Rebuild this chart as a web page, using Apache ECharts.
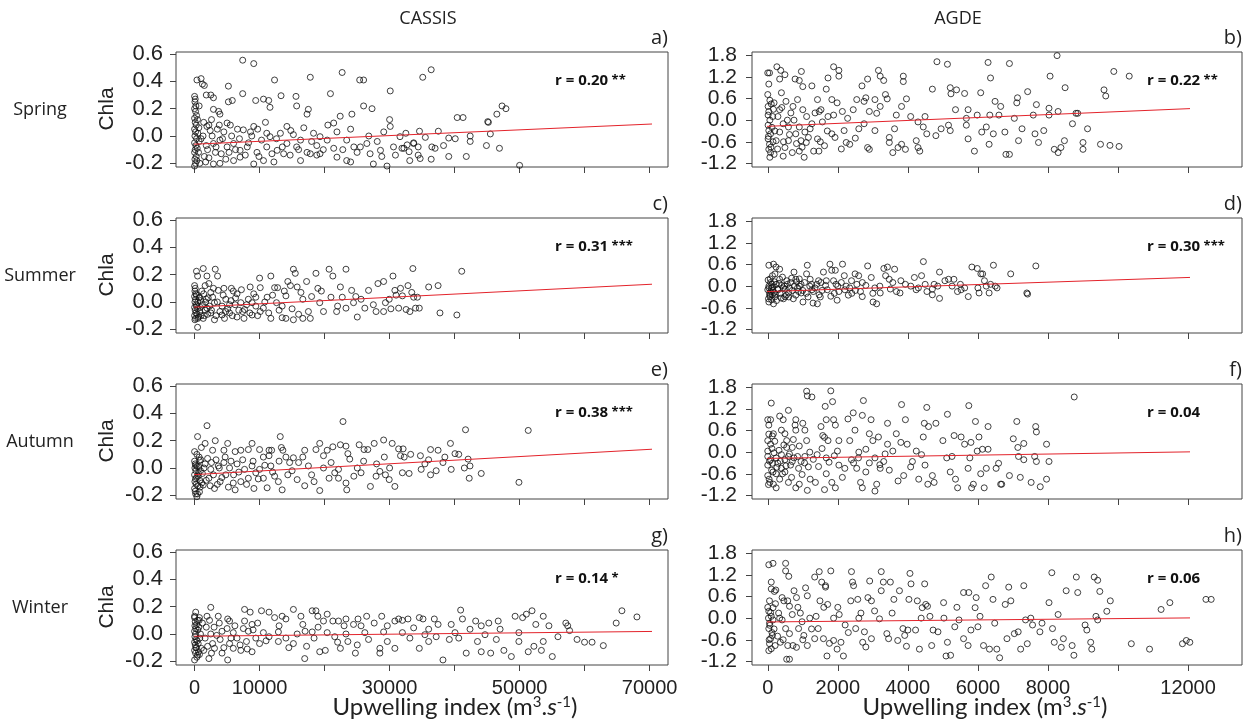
<!DOCTYPE html>
<html>
<head>
<meta charset="UTF-8">
<title>Chla vs upwelling index</title>
<script src="https://cdn.jsdelivr.net/npm/echarts@6.0.0/dist/echarts.min.js"></script>
<style>
body { margin: 0; padding: 0; background: #fff; }
#main { width: 1247px; height: 722px; }
</style>
</head>
<body>
<div id="main"></div>
<script>
// plot box ranges (R style, 4% padding) and tick ranges
var leftX = [-2860, 72830];
var rightX = [-450, 13540];
var leftY = [-0.227, 0.615];
var rightY = [-1.30, 1.89];
var leftXTicks = [0, 70000, 10000];     // min, max, step
var rightXTicks = [0, 12000, 2000];
var leftYTicks = [-0.2, 0.6, 0.2];
var rightYTicks = [-1.2, 1.8, 0.6];
var leftXHidden = [20000, 40000, 60000];
var rightXHidden = [10000];

var sites = ['CASSIS', 'AGDE'];
var seasons = ['Spring', 'Summer', 'Autumn', 'Winter'];
var panelTags = ['a)', 'b)', 'c)', 'd)', 'e)', 'f)', 'g)', 'h)'];
var rValues = ['0.20', '0.22', '0.31', '0.30', '0.38', '0.04', '0.14', '0.06'];
var rStars = ['**', '**', '***', '***', '***', '', '*', ''];
// red fitted line: value at left edge, value at right edge
var fitEnds = [[-0.066, 0.093], [-0.19, 0.38], [-0.044, 0.136], [-0.165, 0.29],
               [-0.056, 0.144], [-0.18, 0.03], [-0.018, 0.02], [-0.11, 0.02]];

var springCassis = [[0,0.29],[100,0.27],[50,0.25],[200,0.22],[0,0.2],[150,0.18],[300,0.15],[0,0.13],[100,0.1],[250,0.08],[0,0.05],[150,0.03],[50,0],[300,-0.02],[0,-0.05],[200,-0.07],[100,-0.1],[0,-0.12],[250,-0.15],[50,-0.17],[150,-0.2],[0,-0.22],[400,-0.09],[500,0.02],[350,-0.18],[600,-0.12],[450,0.12],[700,-0.04],[800,-0.2],[650,0.06],
[360,0.41],[1000,0.42],[1200,0.38],[1500,0.37],[700,0.22],[1800,0.3],[2500,0.3],[2900,0.28],
[1500,-0.15],[2000,-0.1],[1300,0],[2400,0.04],[1700,-0.19],[3200,-0.12],[4300,-0.02],[4800,-0.17],[2600,0.12],[3500,0.05],
[7400,0.555],[9100,0.53],[5200,0.365],[7400,0.31],[5800,0.26],[5200,0.25],[9400,0.26],[10600,0.27],[11400,0.26],[11600,0.21],[12300,0.41],[13300,0.295],[15600,0.29],[15700,0.22],[17800,0.43],[17500,0.195],[17300,0.16],[20900,0.31],[22700,0.465],[25400,0.41],[26000,0.41],[26000,0.22],[27300,0.2],[30100,0.33],[22400,0.145],[24200,0.16],[21400,0.095],[3700,0.18],[3900,0.16],[2900,0.195],[1900,0.07],[2200,0.08],[5000,0.095],[5500,0.08],[7500,0.045],[8600,0.03],[9100,0.07],[9700,0.05],[11100,0.02],[11600,-0.005],[13200,0.02],[14200,0.07],[15200,0.01],[16300,-0.03],[18300,0.02],[19300,-0.005],[20400,-0.03],[21900,0.03],[23400,-0.03],[24500,-0.08],[26500,-0.055],[28100,-0.04],[29100,0.03],[30100,0.07],[31600,-0.005],
[2900,-0.205],[3900,-0.2],[6000,-0.18],[7000,-0.155],[9100,-0.205],[10600,-0.18],[12200,-0.19],[13700,-0.13],[14700,-0.14],[16300,-0.18],[17800,-0.13],[18800,-0.14],[19300,-0.13],[21900,-0.155],[23400,-0.18],[24000,-0.19],[25500,-0.08],[27000,-0.13],[27500,-0.205],[29600,-0.22],[30900,-0.14],
[2900,-0.055],[3900,-0.03],[5000,-0.08],[6000,-0.055],[7000,-0.105],[8100,-0.08],[9600,-0.12],[11100,-0.08],[12700,-0.105],[14200,-0.055],[15700,-0.08],[17300,-0.12],[18800,-0.07],[21400,-0.09],[25000,-0.12],[28600,-0.105],[30600,-0.08],[32200,-0.09],[33700,-0.055],
[35100,0.43],[36400,0.485],[40400,0.135],[41300,0.135],[45100,0.105],[45200,0.1],[46500,0.16],[47300,0.22],[47900,0.2],[45500,0.015],[42400,0],[42400,-0.04],[34600,0.035],[37500,0.035],[35500,-0.01],[39100,-0.015],[40100,-0.02],[38300,-0.07],[37000,-0.09],[36500,-0.08],[34400,-0.08],[33700,-0.05],[32700,-0.065],[31900,-0.09],[33000,-0.115],[34400,-0.14],[34700,-0.165],[36400,-0.17],[33100,-0.18],[39100,-0.15],[41800,-0.15],[44900,-0.07],[46900,-0.09],[50000,-0.215],
[1000,-0.02],[1400,0.1],[1800,-0.07],[2200,-0.16],[2700,0],[3300,-0.08],[3800,0.08],[4100,-0.13],[4500,0.03],[5300,-0.12],[5700,0],[6300,-0.1],[6600,0.05],[6900,-0.02],[7800,-0.14],[8300,-0.05],[8800,0],[9900,-0.15],[10300,-0.03],[10900,0.1],[11900,-0.13],[12600,-0.02],[13500,-0.08],[14800,0.04],[16000,-0.1],[16800,0.06],[18000,-0.04],[19800,-0.1],[20500,0.08],[22800,-0.1],[24000,0.05],[26800,0],[28800,-0.15],[30000,0.12],[32500,0.02]];

var springAgde = [[0,1.31],[50,1.31],[30,1.0],[0,0.71],[10,0.38],[30,0.24],[10,0.14],[60,0],[10,-0.14],[30,-0.29],[80,-0.38],[10,-0.52],[50,-0.67],[30,-0.81],[80,-0.9],[60,-1.03],[100,0.45],[120,-0.2],[150,-0.6],[140,0.1],[20,-0.45],[90,-0.75],[160,0.3],[60,0.55],[180,-0.95],
[260,1.48],[370,1.38],[490,1.26],[340,1.14],[390,0.76],[520,0.52],[290,0.1],[440,-0.1],[590,-0.19],[240,-0.57],[490,-0.76],[440,-1.0],[700,-0.9],[900,-0.86],[1040,-1.03],[780,1.14],[900,1.1],[960,1.35],[1000,0.93],[720,0.38],[850,0.57],[1000,0.29],[750,0],[900,-0.19],[1060,-0.33],[800,-0.38],[950,-0.57],[590,-0.57],[340,-0.33],[180,0.48],[340,0.29],[1260,0.95],[1420,0.57],[1520,0.29],[1470,0.24],[1670,0.86],[1720,1.17],[1880,1.48],[2030,1.38],[2030,1.22],[1830,0.57],[1980,0.48],[1880,0.14],[1720,0.1],[1210,-0.24],[1420,-0.52],[1620,-0.71],[1310,-0.86],[1460,-0.86],[1830,-0.38],[1920,-0.48],[1160,-0.48],[1260,-0.1],[1110,0.1],[1560,-0.05],
[2240,-0.62],[2340,-0.67],[2180,-0.29],[2280,0.05],[2130,0.24],[2440,0.29],[2540,0.57],[2750,0.52],[2690,0.95],[2850,1.14],[2800,0.62],[2900,0.24],[2850,-0.76],[2900,-0.81],[2600,-0.24],[2750,-0.1],[3060,-0.29],[3110,0.19],[3160,1.38],[3210,1.22],[3310,1.1],[3210,0.38],[3060,0.57],[3360,0.71],[3410,0.59],[3470,-0.48],[3470,-0.62],[3620,-0.24],[3670,0.14],[3720,-0.76],[3570,-0.9],[3820,-0.67],[3870,1.22],[3870,1.07],[3960,0.59],[3930,-0.81],[3820,0.38],
[4080,0.1],[4240,-0.57],[4290,-0.76],[4340,-0.86],[4290,-0.05],[4440,-0.19],[4490,0.1],[4540,-0.38],[4700,0.86],[4800,-0.43],[4830,1.62],[4950,-0.24],[5130,1.55],[5210,0.9],[5230,0.73],[5390,0.84],[5160,-0.14],[5210,-0.29],[5360,0.29],[5620,0.74],[5670,0.05],[5670,-0.14],[5720,0.29],[5720,-0.52],[5900,-0.86],[5980,0.14],
[6080,0.76],[6110,-0.33],[6240,-0.19],[6290,1.6],[6360,1.17],[6340,0.14],[6320,-0.67],[6440,-0.38],[6490,0.52],[6650,0.38],[6600,0.14],[6770,-0.33],[6800,-0.95],[6900,1.57],[6900,-0.95],[7040,0.05],[7110,0.48],[7130,0.62],[7160,-0.57],[7260,-0.24],[7420,0.79],[7580,0.14],[7630,-0.38],[7730,-0.62],[7670,0.43],[7880,-0.29],
[8030,0.33],[8030,0.14],[8060,1.22],[8180,-0.81],[8260,1.79],[8290,-0.9],[8290,0.24],[8370,-0.76],[8470,-0.57],[8490,0.9],[8700,-0.1],[8800,0.19],[8850,0.19],[9000,-0.62],[9000,-0.81],[9130,-0.24],[9500,-0.67],[9600,0.84],[9650,0.67],[9770,-0.7],[9880,1.35],[10030,-0.73],[10320,1.22],
[200,-0.3],[280,-0.8],[400,0.35],[450,-0.6],[560,0],[620,-0.4],[660,0.2],[820,-0.65],[980,-0.75],[1100,-0.62],[1350,0.2],[1500,-0.6],[1700,-0.3],[2100,-0.8],[2500,-0.5]];

var summerCassis = [[0,0.12],[100,0.1],[50,0.08],[200,0.06],[0,0.04],[150,0.02],[50,0],[250,-0.02],[0,-0.04],[100,-0.06],[200,-0.08],[0,-0.1],[150,-0.12],[50,-0.13],[300,0.05],[350,-0.03],[400,-0.09],[500,0],[600,-0.11],[700,0.03],[450,-0.05],[800,-0.07],[900,0.01],[1000,-0.1],[1200,-0.02],[1400,0.06],[1600,-0.06],[1800,0.02],[2000,-0.09],[2300,-0.03],
[460,-0.185],[290,0.225],[460,0.19],[1330,0.245],[1900,0.19],[3180,0.24],[3530,0.19],[1620,0.12],[2200,0.135],[2490,0.07],[3640,0.085],[4510,0.1],[5660,0.1],[5950,0.08],[6530,0.06],[4800,0.02],[3060,-0.005],[4220,-0.03],[5380,-0.02],[7110,-0.005],[8270,0.02],[8550,0.11],[8840,-0.005],[10000,0.175],[10100,0.105],[10100,-0.07],[11160,0.035],[11730,0.19],[12310,0.105],[12770,0.105],[10580,-0.045],[11730,-0.12],[12600,-0.005],[13470,-0.03],[14050,0.045],[14340,0.15],[14740,0.12],[15200,0.24],[15490,0.21],[15780,0.11],[16360,0.07],[16650,0.02],[17230,0.15],[17510,-0.07],[14050,-0.12],[13470,-0.115],[15200,-0.13],[16650,-0.12],[17800,-0.12],[18670,0.21],[18960,0.1],[19250,-0.005],[19830,-0.07],[20690,0.24],[21270,0.19],[20980,0.035],[21850,-0.07],[22430,0.11],[22720,0.035],[23290,0.24],[23290,-0.045],[24160,0.085],[24450,-0.005],[25030,-0.11],[25610,0.02],[26190,-0.045],[26760,0.085],[28210,0.135],[29080,0.15],[29360,-0.005],[29940,0.02],[30520,0.19],[30810,0.085],[31680,0.1],[31970,0.045],[32830,0.12],[33410,0.07],[33580,0.245],[33700,0.035],[33990,-0.045],[34280,0.035],[34570,-0.045],[36010,0.11],[37460,0.12],[37750,-0.08],[40350,-0.095],[41100,0.225],[27920,-0.07],[29080,-0.07],[31390,-0.045],[32540,-0.055],[33120,-0.07],
[4220,-0.095],[5380,-0.08],[6530,-0.11],[7690,-0.055],[8840,-0.095],[9420,-0.03],[2490,-0.08],[3060,-0.13],[1330,-0.12],[1910,-0.045],[750,0.035],[2770,0.035],[4800,-0.07],[6240,-0.02],[7400,-0.07],[9420,0.035],
[500,-0.12],[900,-0.04],[1100,0.08],[1500,-0.1],[1700,0],[2100,0.03],[2600,-0.06],[2900,0.1],[3300,-0.1],[3500,0],[3900,-0.07],[4400,0.05],[4600,-0.12],[5100,-0.05],[5600,0.01],[5800,-0.1],[6300,0.03],[6800,-0.06],[7200,0.09],[7600,-0.12],[8000,-0.02],[8500,-0.08],[9100,0.06],[9700,-0.1],[10800,0],[11400,-0.08],[12000,0.05],[13000,-0.06],[13800,0.08],[15000,-0.05],[16000,-0.09],[18000,0.04],[19500,0.08],[22000,-0.03],[24800,0.04],[27500,-0.02],[30200,-0.05],[31000,0.05]];

var summerAgde = [[31,0.58],[164,0.61],[236,0.53],[339,0.47],[10,0.17],[133,0.29],[205,0.34],[31,0],[82,-0.15],[62,-0.29],[31,-0.44],[164,-0.49],[133,-0.24],[236,0.05],[339,0.19],[441,-0.05],[492,-0.29],[595,-0.19],[544,0.15],[749,0.39],[800,0.19],[903,0],[954,-0.19],[1005,-0.44],[1129,0.58],[1108,0.34],[1211,0.19],[1262,-0.1],[1293,-0.47],[1416,-0.49],[1467,-0.24],[1518,0.1],[1590,0.39],[1672,0.15],[1775,0.61],[1826,0.44],[1878,0.15],[1929,0.44],[1949,0.05],[2031,-0.15],[1980,-0.39],[2134,0.61],[2185,0.29],[2237,0],[2339,-0.05],[2391,0.15],[2493,0.34],[2596,0.29],[2544,0.05],[2647,-0.15],[2698,-0.29],[2852,0.56],[2955,0.24],[3006,-0.44],[3109,-0.49],[3057,-0.05],[3211,-0.19],[3314,0.49],[3365,0.29],[3417,0.53],[3468,0.19],[3570,0.1],[3622,0.47],[3673,-0.15],[3776,-0.19],[3930,0.05],[4083,0],[4186,0.24],[4237,-0.1],[4391,0.29],[4443,0.68],[4494,0.05],[4545,-0.15],[4699,-0.24],[4750,0.05],[4853,0],[4904,-0.34],[4904,0.39],[5058,0.15],[5161,0.19],[5263,0],[5315,0.19],[5417,-0.15],[5520,-0.1],[5622,-0.05],[5725,-0.29],[5828,0.53],[5982,0.49],[6033,-0.19],[6084,0.34],[6135,0.34],[6187,0.15],[6238,0],[6320,-0.19],[6361,0.05],[6443,0.58],[6495,0],[6546,-0.05],[6936,0.34],[7397,-0.19],[7418,-0.22],[7654,0.56],
[0,-0.1],[50,-0.2],[100,-0.05],[20,-0.35],[150,-0.12],[80,0.1],[200,-0.3],[120,0.05],[250,-0.4],[300,-0.1],[350,-0.2],[400,0.02],[450,-0.35],[60,-0.25],[180,-0.18],[500,-0.08],[600,-0.3],[650,0.1],[700,-0.12],[800,-0.25],[850,-0.05],[900,0.2],[1000,-0.12],[1100,-0.2],[1200,0],[1300,-0.15],[1400,0.05],[1500,-0.3],[1700,-0.1],[1900,-0.2],[2100,0.1],[2300,-0.25],[2500,-0.12],[2800,0.02],[3000,-0.2],
[30,-0.05],[70,0.2],[110,-0.38],[140,-0.02],[190,0.12],[220,-0.22],[280,-0.08],[320,0.08],[380,-0.33],[420,0.25],[480,0],[530,-0.25],[560,0.05],[620,-0.05],[680,0.22],[730,-0.35],[760,0],[830,0.12],[880,-0.15],[950,0.05],[1050,0.1],[1150,-0.3],[1250,0.05],[1350,-0.05],[1450,0.15],[1550,-0.12],[1650,0.02],[1800,-0.28],[2000,0],[2200,-0.1],[2400,-0.2],[2700,0.1],[3200,0],[3500,-0.08],[3800,0.15],[4300,-0.05],[4700,-0.08],[5500,0.05],[6000,-0.05]];

var autumnCassis = [[0,0.05],[100,0.03],[50,0],[200,-0.02],[0,-0.05],[150,-0.08],[50,-0.1],[250,-0.12],[0,-0.15],[100,-0.17],[300,-0.07],[400,0.01],[500,-0.13],[600,-0.04],[700,0.08],[800,-0.09],[350,0.1],[450,-0.19],[900,-0.02],[1100,-0.11],
[350,-0.21],[1910,0.31],[460,0.23],[0,0.12],[1040,0.15],[1620,0.18],[3180,0.2],[5090,0.18],[2770,0.13],[4510,0.13],[6240,0.12],[7110,0.13],[8270,0.135],[8840,0.18],[10000,0.135],[11450,0.13],[11850,0.13],[13180,0.23],[13350,0.15],[13580,0.13],[10580,0.08],[11450,0.09],[14050,0.08],[15200,0.075],[16650,0.08],[16940,0.13],[18670,0.135],[19250,0.18],[19830,0.09],[20400,0.13],[21270,0.155],[22430,0.17],[22830,0.34],[23290,0.16],[23580,0.105],[23870,0.065],[25320,0.17],[26070,0.135],[26650,0.135],[27630,0.18],[29080,0.205],[29190,0.08],[30400,0.18],[31390,0.14],[32080,0.14],[31680,0.09],[32250,0.08],[33240,0.1],[34740,0.09],[35430,0.03],[36300,0.135],[37460,0.13],[38210,0.04],[39360,0.18],[40060,0.105],[40640,0.1],[41680,0.28],[42080,0.065],[42370,0.015],[42250,-0.075],[44100,-0.04],[49900,-0.105],[51330,0.275],
[39480,-0.01],[37170,-0.02],[36300,-0.05],[34860,-0.01],[31970,-0.035],[30810,-0.135],[29940,-0.085],[29360,-0.05],[28500,-0.025],[27920,-0.06],[27050,-0.135],[25610,-0.035],[25030,0],[23410,-0.16],[23290,-0.11],[22140,-0.075],[21560,-0.035],[20690,-0.075],[19250,-0.165],[18380,-0.1],[16940,-0.13],[15780,-0.085],[14340,-0.05],[13470,-0.16],[12890,-0.1],[12310,-0.06],[11160,-0.145],[10580,-0.075],[9420,-0.035],[9130,-0.15],[8270,-0.075],[7110,-0.1],[6240,-0.16],[5950,-0.11],[4800,-0.05],[3930,-0.1],[3060,-0.15],[2200,-0.075],[1330,-0.125],[750,-0.175],[170,-0.19],
[750,0.055],[1620,0.03],[2490,-0.01],[3640,0.015],[4510,0.04],[5380,0],[6530,0.03],[7690,-0.01],[8840,0.015],[10000,-0.01],[11730,0.015],[14620,0.04],[17510,0.015],[19830,0],[22140,-0.01],
[200,0.02],[550,-0.06],[650,0.01],[850,-0.14],[950,0.06],[1200,-0.04],[1450,0],[1800,-0.09],[2000,0.07],[2400,-0.13],[2600,0.04],[2900,-0.05],[3300,0.06],[3500,-0.12],[3800,0],[4200,-0.07],[4700,0.08],[5200,-0.14],[5600,0.05],[6000,-0.05],[6800,-0.03],[7400,0.06],[8000,-0.12],[9000,0.05],[9800,-0.08],[10800,0.02],[12000,-0.03],[13000,0.05],[15000,-0.02],[16000,0.04],[18000,-0.05],[21000,0.04],[24500,-0.06],[26000,0.05],[28000,0.03],[30000,0],[33000,-0.04],[36000,0.06],[38500,0.08],[41500,0]];

var autumnAgde = [[0,0.9],[80,0.9],[30,0.75],[160,0.51],[30,0.5],[130,0.45],[0,0.32],[80,0.22],[0,0.03],[0,-0.12],[80,-0.21],[0,-0.36],[110,-0.5],[0,-0.65],[60,-0.84],[160,-0.89],[240,-0.99],[100,1.36],[40,-0.75],[120,0.1],[50,-0.25],[20,-0.9],
[340,1.0],[440,0.9],[390,0.61],[490,0.51],[590,1.16],[540,0.32],[700,0.13],[800,0.9],[780,0.75],[800,0.61],[750,-0.16],[650,-0.36],[490,-0.55],[340,-0.75],[590,-0.84],[800,-0.99],[900,-0.89],[1000,0.8],[1060,0.61],[1110,1.69],[1130,1.56],[1260,1.53],[1110,0.32],[1060,-0.12],[1160,-0.41],[1130,-1.06],[1210,-0.75],[1360,-0.84],[1410,-0.07],[1520,0.71],[1570,0.46],[1620,0.41],[1640,1.27],[1670,0.9],[1800,1.7],[1850,1.4],[1880,0.9],[1930,0.75],[1720,0.32],[1670,-0.16],[1670,-0.6],[1830,-0.84],[1930,-0.99],[1620,-1.04],
[2030,0.32],[1990,0.03],[2030,-0.36],[2130,-0.7],[2290,0.92],[2340,0.32],[2390,-0.21],[2440,1.09],[2490,0.61],[2590,-0.16],[2540,-0.45],[2650,-0.84],[2700,-0.99],[2730,1.43],[2700,1.02],[2800,0.08],[2800,-0.55],[2900,0.51],[2950,0.9],[3000,0.32],[3060,-0.16],[3060,-1.08],[3110,-0.89],[3160,0.42],[3210,-0.45],[3310,-0.26],[3420,0.8],[3420,0.22],[3470,-0.5],[3570,0.03],[3670,0.51],[3720,-0.8],[3800,0.27],[3820,1.32],[3880,-0.65],[3930,0.9],[3980,0.22],
[4080,-0.41],[4130,-0.26],[4240,0.03],[4310,-0.75],[4390,-0.07],[4440,0.42],[4470,0.8],[4490,-0.36],[4540,1.24],[4590,0.71],[4570,-0.89],[4700,-0.65],[4750,-0.84],[4800,0.8],[5000,0.32],[5110,-0.16],[5130,1.05],[5210,-0.55],[5260,-0.12],[5320,0.46],[5360,-0.75],[5420,-0.99],[5520,0.42],[5620,0.22],[5720,-0.45],[5740,1.29],[5800,0.27],[5770,-0.16],[5820,-0.99],[5870,-0.89],[5930,0.85],[5980,0.03],
[6030,0.42],[6080,-0.6],[6130,0.08],[6180,-0.99],[6240,-0.45],[6290,0.71],[6290,0.08],[6520,-0.45],[6590,-0.31],[6650,-0.89],[6680,-0.89],[6900,-0.65],[7010,0.37],[7110,0.85],[7140,0.13],[7160,-0.12],[7210,-0.7],[7310,-0.21],[7310,0.24],[7520,-0.84],[7650,0.71],[7670,0.56],[7620,-0.12],[7670,-0.26],[7780,-0.96],[7960,0.22],[7960,-0.75],[8030,-0.26],[8750,1.53],
[180,-0.02],[240,-0.16],[290,-0.31],[390,-0.07],[490,-0.21],[590,-0.12],[700,-0.26],[850,-0.12],[950,-0.26],[390,-0.45],[240,-0.6],[540,0.13],[900,0.17],[130,-0.31],
[150,-0.55],[200,0.3],[260,-0.42],[320,0.05],[360,-0.25],[420,-0.6],[460,0.2],[520,-0.38],[620,-0.05],[680,-0.7],[730,0.35],[880,-0.45],[980,-0.62],[1050,-0.3],[1200,0],[1300,-0.2],[1450,-0.4],[1550,0.1],[1750,-0.28],[1900,-0.1],[2200,-0.45],[2450,-0.3],[2600,0],[2900,-0.3],[3200,-0.35],[3350,-0.05]];

var winterCassis = [[0,0.12],[100,0.09],[50,0.06],[200,0.04],[0,0.02],[150,0],[50,-0.02],[250,-0.04],[0,-0.06],[100,-0.08],[200,-0.1],[0,-0.12],[150,-0.14],[300,0.07],[400,-0.05],[500,0.03],[600,-0.13],[700,0.1],[800,-0.03],[350,-0.17],
[0,-0.19],[460,-0.155],[170,0.16],[0,0.13],[2490,0.195],[750,0.12],[1910,0.13],[3640,0.13],[5090,0.11],[5380,0.095],[7690,0.18],[8550,0.16],[7690,0.095],[8840,0.07],[5090,-0.19],[2200,-0.18],[3060,-0.105],[4220,-0.14],[5950,-0.105],[7110,-0.12],[8840,-0.13],[10290,0.17],[11450,0.16],[12310,0.12],[13470,0.13],[14050,0.11],[15200,0.18],[16360,0.13],[16650,0.07],[16940,-0.18],[18090,0.17],[18670,0.17],[18960,0.13],[19830,0.095],[20400,0.145],[21270,0.095],[22140,0.095],[23000,0.06],[23290,0.11],[24450,0.07],[25140,0.11],[25610,0.06],[26470,0.13],[27630,0.08],[28790,0.13],[29650,0.06],[30810,0.095],[31390,0.11],[31970,0.1],[32830,0.11],[33700,0.045],[34570,0.12],[35140,0.11],[36010,0.035],[36880,0.11],[37460,0.07],[38210,-0.19],[39480,0.07],[40930,0.175],[41210,0.11],[42370,0.035],[43240,0.095],[44100,0.06],[45260,0.08],[46710,0.095],[47000,0.035],[49310,0.13],[50460,0.12],[51040,0.145],[51910,0.17],[52490,0.07],[53640,0.13],[54510,0.06],[57110,0.08],[57400,0.06],[57690,0.025],[64860,0.08],[65740,0.17],[68050,0.125],
[58840,-0.04],[59990,-0.06],[61150,-0.06],[62880,-0.085],[55900,-0.02],[55030,-0.165],[53640,-0.055],[53350,-0.12],[52200,-0.09],[51330,-0.13],[49890,-0.055],[48730,-0.165],[47580,-0.12],[46420,-0.04],[45550,-0.14],[44100,-0.13],[43520,-0.055],[41790,-0.14],[40640,-0.03],[39190,-0.04],[37170,-0.02],[36010,-0.055],[34570,-0.105],[33120,-0.03],[30810,-0.105],[29650,-0.055],[28500,-0.105],[28500,-0.14],[26760,-0.04],[25030,-0.08],[24740,-0.14],[23580,-0.055],[22430,-0.105],[21560,-0.02],[20110,-0.12],[19250,-0.13],[18380,-0.03],[17230,-0.09],[15200,-0.07],[14050,-0.03],[12890,-0.055],[11450,-0.02],[10000,-0.07],[9420,-0.03],[7980,-0.055],[6530,-0.03],[5380,-0.07],[3930,-0.04],[2770,-0.07],[1620,-0.03],[1040,-0.105],
[2490,0],[4220,0.02],[5950,0.01],[8270,0.02],[10580,0.01],[12890,0.015],[15780,0],[18090,0.015],[20400,0.01],[23290,0],[26190,0.01],[29080,0.015],[31970,0.01],[35430,-0.005],[40060,0.01],[44680,-0.005],[49890,0.01],
[300,-0.1],[450,0.1],[550,-0.07],[650,0.05],[750,-0.15],[900,0],[1200,0.08],[1400,-0.12],[1800,0.05],[2000,-0.09],[2300,0.1],[2600,-0.14],[3000,0.05],[3400,-0.01],[3800,0.08],[4500,-0.1],[5000,0.04],[5600,-0.03],[6200,0.06],[7000,-0.08],[7500,0.04],[8100,-0.11],[9000,0.03],[9700,0.08],[11000,-0.05],[13000,0.06],[14500,-0.1],[17000,0.02],[19000,0.05],[22000,-0.06]];

var winterAgde = [[30,1.48],[150,1.52],[510,1.52],[510,1.31],[600,1.16],[620,-1.14],[540,-1.14],[30,-0.9],[100,0.81],[190,0.74],[100,1.0],[230,0.78],[50,0.48],[150,0.29],[30,0.19],[100,0.05],[50,-0.14],[30,-0.29],[130,-0.48],[80,-0.57],[50,-0.71],[210,-0.76],[360,-0.67],[410,0.57],[460,0.48],[570,0.48],[620,0.33],[310,0.14],[410,-0.05],[510,-0.29],[620,-0.43],[570,-0.76],[720,-0.76],[820,-0.81],[750,0.76],[820,0.57],[930,0.14],[980,-0.1],[880,-0.29],[1080,0.84],[1130,0.62],[1030,-0.48],[1130,-0.76],
[0,0.3],[60,-0.2],[20,0],[120,-0.4],[80,0.15],[40,-0.6],[150,-0.05],[100,-0.85],
[1340,1.14],[1470,1.29],[1490,0.48],[1540,1.0],[1650,0.9],[1650,0.86],[1380,0.05],[1440,-0.29],[1340,-0.57],[1590,-0.57],[1690,-1.05],[1710,0.38],[1800,1.31],[1880,0],[1880,-0.62],[1980,-0.86],[2040,0.1],[2090,-0.67],[2160,-1.05],[2210,-0.19],[2370,0.48],[2390,1.29],[2420,1.0],[2450,0.9],[2510,-0.29],[2570,0.52],[2660,0.14],[2710,-0.67],[2760,-0.38],[2860,0.57],[2910,1.03],[2960,0.48],[2960,-0.57],[3190,-0.02],[3240,1.29],[3240,0.76],[3300,1.0],[3400,-0.43],[3450,-0.57],[3500,1.0],[3550,0.14],[3600,0.52],[3710,-0.62],[3760,0.76],[3860,-0.29],[3910,-0.48],[3960,-0.78],
[4000,-0.33],[4030,0.52],[4060,1.24],[4090,0.95],[4220,-0.33],[4270,0.48],[4330,-0.86],[4380,0],[4410,0.29],[4480,0.95],[4510,0.38],[4560,0.33],[4630,0.05],[4680,-0.76],[4720,-0.33],[4860,-0.38],[5020,0.43],[5030,0],[5090,-1.05],[5130,-0.67],[5220,-1.03],[5340,-0.24],[5400,0.3],[5460,-0.05],[5590,-0.57],[5590,0.71],[5720,-0.76],[5740,0.71],[5800,-0.33],[5920,0.29],[5950,0.57],
[6000,-0.24],[6060,0.05],[6160,-0.76],[6220,0.9],[6330,-0.86],[6380,1.14],[6430,0.52],[6480,-0.14],[6540,-0.86],[6620,-1.1],[6780,0.38],[6830,-0.57],[6880,0.86],[6940,0.48],[7040,-0.43],[7150,-0.38],[7220,-0.86],[7310,0.9],[7360,-0.05],[7410,-0.71],[7510,0],[7560,-0.19],[7770,-0.38],[7830,-0.14],
[8030,0.43],[8110,1.26],[8130,-0.29],[8180,-0.67],[8290,0.1],[8380,-0.81],[8440,-0.57],[8520,0.76],[8690,-0.76],[8740,-1.03],[8810,1.14],[8850,0.71],[9060,-0.19],[9110,-0.33],[9220,-0.67],[9250,-0.86],[9320,1.14],[9370,0.05],[9420,1.05],[9420,-0.05],[9480,0.74],[9680,0.19],[9780,0.48],[10380,-0.71],[10900,-0.86],[11230,0.24],[11480,0.43],[11840,-0.71],[11950,-0.62],[12050,-0.67],[12510,0.52],[12660,0.52],
[180,-0.3],[220,0.4],[280,-0.5],[340,0],[440,-0.6],[700,0.1],[860,0.3],[1000,-0.6],[1200,0],[1250,-0.3],[1600,0.3],[1760,-0.7],[2000,0.3],[2300,-0.4],[2600,0],[2800,-0.8],[3050,0.2]];

var panelData = [springCassis, springAgde, summerCassis, summerAgde,
                 autumnCassis, autumnAgde, winterCassis, winterAgde];

var chart = echarts.init(document.getElementById('main'));
var grids = [], xAxes = [], yAxes = [], series = [], texts = [];
var axisFont = 'Liberation Sans';
var boxH = 115;

// fraction of the box at which value v sits, for a padded range r
function frac(v, r) { return (v - r[0]) / (r[1] - r[0]); }

for (var i = 0; i < 8; i++) {
    var row = Math.floor(i / 2), col = i % 2;
    var boxL = col ? 752 : 176, boxW = col ? 490 : 492, boxT = 52 + row * 166;
    var xr = col ? rightX : leftX, yr = col ? rightY : leftY;
    var xt = col ? rightXTicks : leftXTicks, yt = col ? rightYTicks : leftYTicks;
    var hidden = col ? rightXHidden : leftXHidden;
    // grid spans the tick range; the box around it spans the padded range
    var gl = boxL + frac(xt[0], xr) * boxW, gr = boxL + frac(xt[1], xr) * boxW;
    var gt = boxT + (1 - frac(yt[1], yr)) * boxH, gb = boxT + (1 - frac(yt[0], yr)) * boxH;
    grids.push({left: gl, top: gt, width: gr - gl, height: gb - gt, show: false});
    xAxes.push({
        type: 'value', gridIndex: i, min: xt[0], max: xt[1], interval: xt[2],
        offset: boxT + boxH - gb,
        splitLine: {show: false}, axisLine: {show: false, onZero: false},
        axisTick: {show: true, length: 6, lineStyle: {color: '#444'}},
        axisLabel: {show: row === 3, margin: 13, fontSize: 20, color: '#222', fontFamily: axisFont,
                    hideOverlap: false, showMinLabel: true, showMaxLabel: true,
                    formatter: (function (h) {
                        return function (v) { return h.indexOf(v) >= 0 ? '' : String(v); };
                    })(hidden)}
    });
    yAxes.push({
        type: 'value', gridIndex: i, min: yt[0], max: yt[1], interval: yt[2],
        offset: gl - boxL,
        splitLine: {show: false}, axisLine: {show: false, onZero: false},
        axisTick: {show: true, length: 6, lineStyle: {color: '#444'}},
        axisLabel: {margin: col ? 15 : 13, fontSize: col ? 21 : 22, color: '#222', fontFamily: axisFont,
                    hideOverlap: false, showMinLabel: true, showMaxLabel: true,
                    formatter: function (v) { return (+v).toFixed(1); }}
    });
    series.push({
        type: 'scatter', xAxisIndex: i, yAxisIndex: i, data: panelData[i], clip: false,
        symbol: 'circle', symbolSize: 6, silent: true,
        itemStyle: {color: 'rgba(0,0,0,0)', borderColor: '#111', borderWidth: 1}
    });
    series.push({
        type: 'line', xAxisIndex: i, yAxisIndex: i, silent: true, showSymbol: false, clip: false,
        data: [[xr[0], fitEnds[i][0]], [xr[1], fitEnds[i][1]]],
        lineStyle: {color: '#e3232b', width: 1}, z: 5
    });

    // plot frame
    texts.push({type: 'rect', shape: {x: boxL, y: boxT, width: boxW, height: boxH},
        style: {fill: 'none', stroke: '#444', lineWidth: 1}, silent: true});
    // panel letter
    texts.push({type: 'text', x: boxL + boxW, y: boxT - 14,
        style: {text: panelTags[i], fontSize: 20, fontFamily: 'Open Sans', fill: '#222',
                align: 'right', verticalAlign: 'middle'}});
    // r value with stars
    texts.push({type: 'text', x: boxL + boxW - (col ? 95 : 113), y: boxT + 29,
        style: {text: '{a|r = ' + rValues[i] + '}' + (rStars[i] ? '{b| ' + rStars[i] + '}' : ''),
                align: 'left', verticalAlign: 'middle',
                rich: {a: {fontSize: 15, fontWeight: 'bold', fontFamily: 'Open Sans', fill: '#111'},
                       b: {fontSize: 13, fontWeight: 'bold', fontFamily: 'Open Sans', fill: '#111',
                           verticalAlign: 'top'}}}});
    if (col === 0) {
        texts.push({type: 'text', x: 107, y: boxT + 57, rotation: Math.PI / 2,
            style: {text: 'Chla', fontSize: 21, fontFamily: axisFont, fill: '#222',
                    align: 'center', verticalAlign: 'middle'}});
        texts.push({type: 'text', x: 40, y: boxT + 58,
            style: {text: seasons[row], fontSize: 18, fontFamily: 'Open Sans', fill: '#222',
                    align: 'center', verticalAlign: 'middle'}});
    }
}

// column headers
texts.push({type: 'text', x: 428, y: 19, style: {text: sites[0], fontSize: 18,
    fontFamily: 'Open Sans', fill: '#222', align: 'center', verticalAlign: 'middle'}});
texts.push({type: 'text', x: 958, y: 19, style: {text: sites[1], fontSize: 18,
    fontFamily: 'Open Sans', fill: '#222', align: 'center', verticalAlign: 'middle'}});

// x axis titles
var titleRich = {t: {fontSize: 24, fontFamily: 'Lato', fill: '#222'},
                 i: {fontSize: 24, fontFamily: 'Lato', fontStyle: 'italic', fill: '#222'},
                 s: {fontSize: 15, fontFamily: 'Lato', fill: '#222', verticalAlign: 'top'}};
var titleText = '{t|Upwelling index (m}{s|3}{t|.}{i|s}{s|-1}{t|)}';
texts.push({type: 'text', x: 455, y: 707,
    style: {text: titleText, rich: titleRich, align: 'center', verticalAlign: 'middle'}});
texts.push({type: 'text', x: 985, y: 707,
    style: {text: titleText, rich: titleRich, align: 'center', verticalAlign: 'middle'}});

chart.setOption({
    animation: false,
    backgroundColor: '#fff',
    grid: grids,
    xAxis: xAxes,
    yAxis: yAxes,
    series: series,
    graphic: texts
});
</script>
</body>
</html>
